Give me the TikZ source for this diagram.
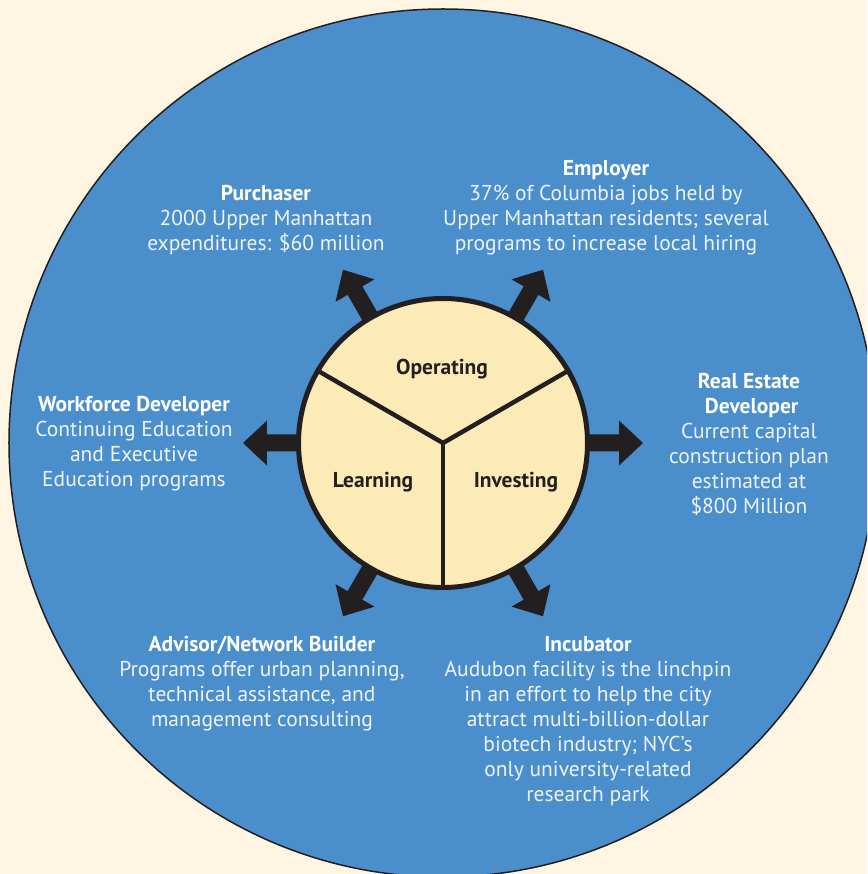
\documentclass[tikz,border=0pt]{standalone}
\usepackage{fontspec}
\setmainfont{PT Sans}
\definecolor{cream}{HTML}{FEF5E2}
\definecolor{ringblue}{HTML}{4A8ECB}
\definecolor{hubfill}{HTML}{FDEBB7}
\definecolor{ink}{HTML}{231F20}
\definecolor{softwhite}{HTML}{EEF3F9}
\begin{document}
\begin{tikzpicture}[x=1pt,y=1pt,
  role/.style={align=center, anchor=base, text=softwhite,
    font=\fontsize{21.5}{25}\selectfont, inner sep=0pt},
  sector/.style={anchor=base, text=ink, font=\fontsize{21.5}{25}\selectfont\bfseries, inner sep=0pt},
  pusharrow/.style={fill=ink}]
% canvas
\useasboundingbox (-443,-431) rectangle (424,443);
\fill[cream] (-443,-431) rectangle (424,443);
\begin{scope}
\clip (-443,-431) rectangle (424,443);
\node[circle, draw=ink, line width=1.5pt, fill=ringblue, minimum size=868pt, inner sep=0pt] (ring) at (0,0) {};
\end{scope}
% six outward arrows
\coordinate (hubc) at (0,0);
\foreach \a in {0,60,120,180,240,300}{
  \fill[pusharrow, shift={(hubc)}, rotate=\a]
    (130,-8.5) -- (176,-8.5) -- (176,-22.5) -- (200,0) -- (176,22.5) -- (176,8.5) -- (130,8.5) -- cycle;
}
% central hub split into three sectors
\node[circle, draw=ink, line width=5pt, fill=hubfill, minimum size=289pt, inner sep=0pt] (hub) at (hubc) {};
\draw[ink, line width=4.5pt] (hub.center) -- (hub.30);
\draw[ink, line width=4.5pt] (hub.center) -- (hub.150);
\draw[ink, line width=4.5pt] (hub.center) -- (hub.270);
\node[sector] (operating) at (-1,68) {Operating};
\node[sector] (learning) at (-70,-45) {Learning};
\node[sector] (investing) at (73,-45) {Investing};
% role descriptions (anchored at the baseline of their last line)
\node[role] (purchaser) at (-177,192) {\textbf{\color{white}Purchaser}\\2000 Upper Manhattan\\expenditures: \$60 million};
\node[role] (employer) at (163,192) {\textbf{\color{white}Employer}\\37\% of Columbia jobs held by\\Upper Manhattan residents; several\\programs to increase local hiring};
\node[role] (realestate) at (306,-71) {\textbf{\color{white}Real Estate}\\\textbf{\color{white}\ Developer}\\Current capital\\construction plan\\estimated at\\\$800 Million};
\node[role] (workforce) at (-309,-44) {\textbf{\color{white}Workforce Developer}\\Continuing Education\\and Executive\\Education programs};
\node[role] (advisor) at (-181,-283) {\textbf{\color{white}Advisor/Network Builder}\\Programs offer urban planning,\\technical assistance, and\\management consulting};
\node[role] (incubator) at (145,-358) {\textbf{\color{white}Incubator}\\Audubon facility is the linchpin\\in an effort to help the city\\attract multi-billion-dollar\\biotech industry; NYC’s\\only university-related\\research park};
\end{tikzpicture}
\end{document}
